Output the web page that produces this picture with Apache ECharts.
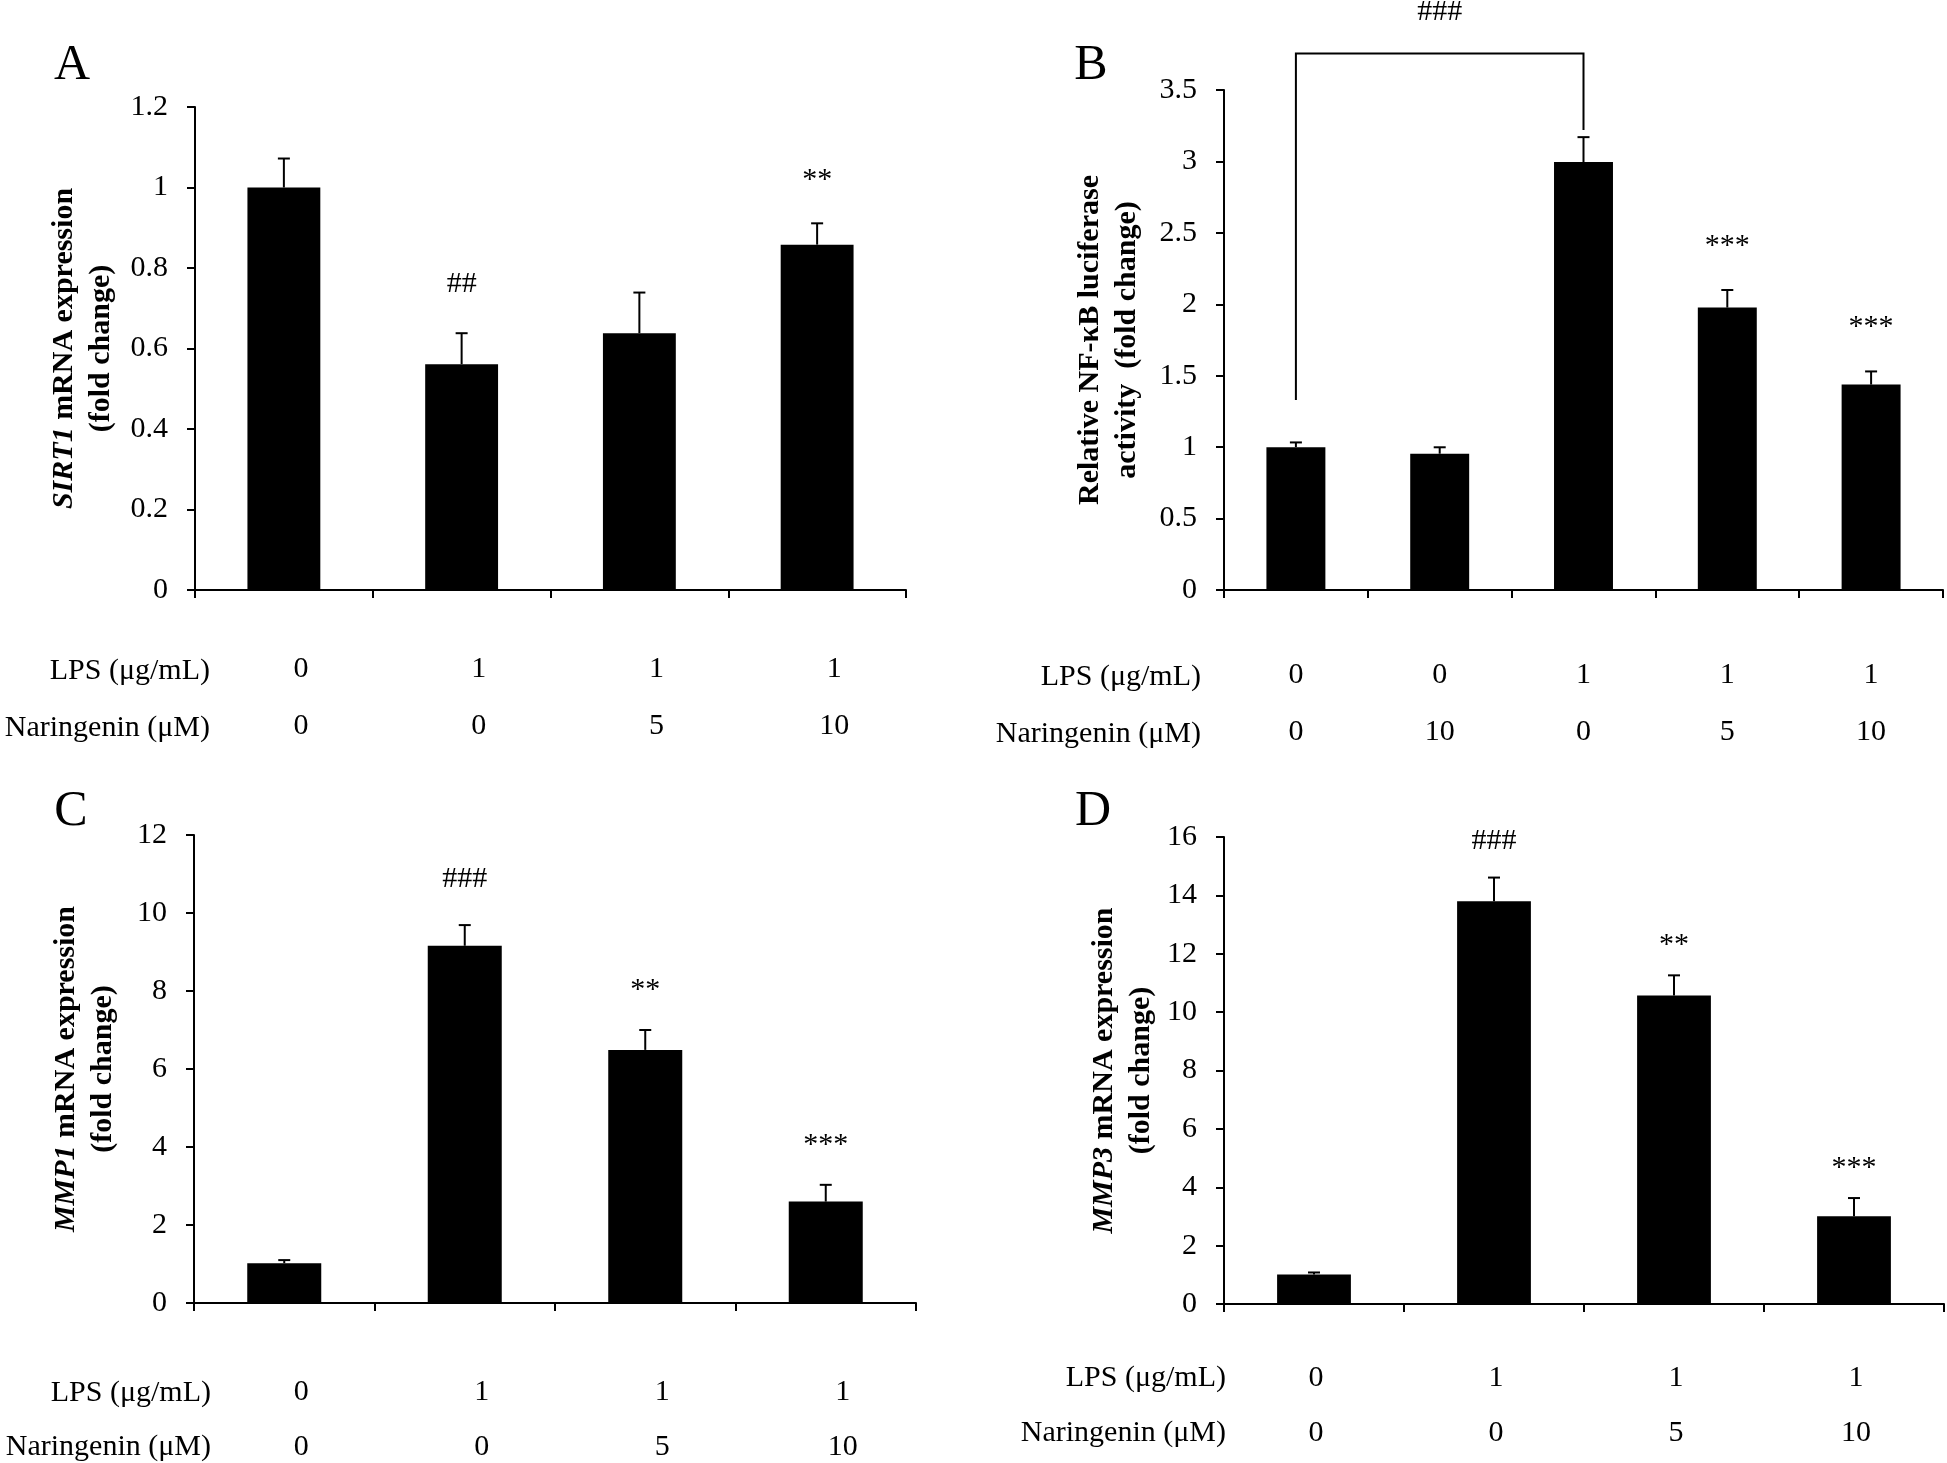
<!DOCTYPE html>
<html><head><meta charset="utf-8">
<script src="https://cdn.jsdelivr.net/npm/echarts@6/dist/echarts.min.js"></script>
<style>html,body{margin:0;padding:0;background:#fff}#c{width:1947px;height:1463px}</style>
</head><body><div id="c"></div>
<script>
// ---------- DATA ----------
// Panel A: SIRT1
const lpsA = ['0', '1', '1', '1'];
const narA = ['0', '0', '5', '10'];
const valA = [1.0, 0.561, 0.638, 0.858];
const errA = [0.072, 0.077, 0.101, 0.053];
const sigA = ['', '##', '', '**'];
const yTicksA = [0, 1.2, 0.2];

// Panel B: NF-kB luciferase
const lpsB = ['0', '0', '1', '1', '1'];
const narB = ['0', '10', '0', '5', '10'];
const valB = [1.0, 0.954, 2.996, 1.977, 1.438];
const errB = [0.033, 0.045, 0.174, 0.123, 0.092];
const sigB = ['', '', '', '***', '***'];
const bracketCatsB = [0, 2];
const bracketYB = [1.33, 3.756, 3.22];
const bracketTextB = '###';
const yTicksB = [0, 3.5, 0.5];

// Panel C: MMP1
const lpsC = ['0', '1', '1', '1'];
const narC = ['0', '0', '5', '10'];
const valC = [1.02, 9.16, 6.49, 2.6];
const errC = [0.08, 0.53, 0.51, 0.43];
const sigC = ['', '###', '**', '***'];
const yTicksC = [0, 12, 2];

// Panel D: MMP3
const lpsD = ['0', '1', '1', '1'];
const narD = ['0', '0', '5', '10'];
const valD = [1.01, 13.8, 10.57, 3.01];
const errD = [0.07, 0.81, 0.69, 0.62];
const sigD = ['', '###', '**', '***'];
const yTicksD = [0, 16, 2];

// ---------- STYLE ----------
const FF = '"Liberation Serif", "Times New Roman", serif';
const FS = 30;

const chart = echarts.init(document.getElementById('c'), null, {renderer: 'canvas'});

const grids = [
  {left: 195, top: 107, width: 711, height: 483},
  {left: 1224, top: 90, width: 719, height: 500},
  {left: 194, top: 835, width: 722, height: 468},
  {left: 1224, top: 837, width: 720, height: 467}
];

function xAxisFor(gi, lps, nar, lh, margin, shift) {
  return {
    type: 'category', gridIndex: gi,
    data: lps.map((l, i) => l + '|' + nar[i]),
    axisLine: {lineStyle: {color: '#000', width: 2}},
    axisTick: {show: true, length: 8, lineStyle: {color: '#000', width: 2}},
    splitLine: {show: false},
    axisLabel: {
      margin: margin, interval: 0,
      formatter: (v, i) => '{a|' + lps[i] + '}\n{a|' + nar[i] + '}',
      rich: {a: {fontFamily: FF, fontSize: FS, color: '#000', lineHeight: lh, padding: [0, 0, 0, shift * 2]}}
    }
  };
}

function yAxisFor(gi, ticks, name, gap) {
  return {
    type: 'value', gridIndex: gi, min: ticks[0], max: ticks[1], interval: ticks[2],
    axisLine: {show: true, lineStyle: {color: '#000', width: 2}},
    axisTick: {show: true, length: 8, lineStyle: {color: '#000', width: 2}},
    splitLine: {show: false},
    axisLabel: {color: '#000', fontFamily: FF, fontSize: FS, margin: 27},
    name: name, nameLocation: 'middle', nameRotate: 90, nameGap: gap,
    nameTextStyle: {
      color: '#000', fontFamily: FF, fontSize: 30, fontWeight: 'bold', lineHeight: 37,
      rich: {
        i: {fontFamily: FF, fontSize: 30, fontWeight: 'bold', fontStyle: 'italic', color: '#000', lineHeight: 37},
        b: {fontFamily: FF, fontSize: 30, fontWeight: 'bold', color: '#000', lineHeight: 37}
      }
    }
  };
}

function barSeries(gi, vals) {
  return {
    type: 'bar', xAxisIndex: gi, yAxisIndex: gi, data: vals, barWidth: '41%',
    itemStyle: {color: '#000'}, silent: true
  };
}

function errSeries(gi, vals, errs, sigs, offset) {
  return {
    type: 'custom', xAxisIndex: gi, yAxisIndex: gi, clip: false, silent: true, z: 5,
    data: vals.map((v, i) => [i, v, errs[i]]),
    renderItem: function (params, api) {
      const x = api.value(0), v = api.value(1), e = api.value(2);
      const p0 = api.coord([x, v]);
      const p1 = api.coord([x, v + e]);
      const children = [
        {type: 'line', shape: {x1: p0[0], y1: p0[1], x2: p1[0], y2: p1[1]}, style: {stroke: '#000', lineWidth: 2}},
        {type: 'line', shape: {x1: p1[0] - 6, y1: p1[1], x2: p1[0] + 6, y2: p1[1]}, style: {stroke: '#000', lineWidth: 2}}
      ];
      const s = sigs[params.dataIndex];
      if (s) {
        const adj = s.indexOf('*') >= 0 ? 5 : -1;
        children.push({type: 'text', style: {
          text: s, x: p1[0], y: p1[1] - offset + adj, align: 'center', verticalAlign: 'middle',
          fontFamily: FF, fontSize: FS, fill: '#000'
        }});
      }
      return {type: 'group', children: children};
    }
  };
}

const bracketSeries = {
  type: 'custom', xAxisIndex: 1, yAxisIndex: 1, clip: false, silent: true, z: 5,
  data: [[bracketCatsB[0], bracketCatsB[1]]],
  renderItem: function (params, api) {
    const a = api.coord([bracketCatsB[0], bracketYB[0]]);
    const b = api.coord([bracketCatsB[0], bracketYB[1]]);
    const c = api.coord([bracketCatsB[1], bracketYB[1]]);
    const d = api.coord([bracketCatsB[1], bracketYB[2]]);
    return {type: 'group', children: [
      {type: 'polyline', shape: {points: [a, b, c, d]}, style: {stroke: '#000', lineWidth: 2, fill: null}},
      {type: 'text', style: {text: bracketTextB, x: (b[0] + c[0]) / 2, y: b[1] - 41, align: 'center',
        verticalAlign: 'middle', fontFamily: FF, fontSize: FS, fill: '#000'}}
    ]};
  }
};

function txt(text, x, y, align, size) {
  return {type: 'text', x: x, y: y, style: {text: text, fontFamily: FF, fontSize: size || FS, fill: '#000',
    align: align || 'left', verticalAlign: 'middle'}};
}

const option = {
  animation: false,
  backgroundColor: '#fff',
  grid: grids,
  xAxis: [
    xAxisFor(0, lpsA, narA, 57, 51, 17),
    xAxisFor(1, lpsB, narB, 57, 57, 0),
    xAxisFor(2, lpsC, narC, 55, 62, 17),
    xAxisFor(3, lpsD, narD, 55, 47, 2)
  ],
  yAxis: [
    yAxisFor(0, yTicksA, '{i|SIRT1}{b| mRNA expression}\n{b|(fold change)}', 75),
    yAxisFor(1, yTicksB, '{b|Relative NF-κB luciferase}\n{b|activity  (fold change)}', 78),
    yAxisFor(2, yTicksC, '{i|MMP1}{b| mRNA expression}\n{b|(fold change)}', 72),
    yAxisFor(3, yTicksD, '{i|MMP3}{b| mRNA expression}\n{b|(fold change)}', 64)
  ],
  series: [
    barSeries(0, valA), errSeries(0, valA, errA, sigA, 48),
    barSeries(1, valB), errSeries(1, valB, errB, sigB, 49), bracketSeries,
    barSeries(2, valC), errSeries(2, valC, errC, sigC, 45),
    barSeries(3, valD), errSeries(3, valD, errD, sigD, 35)
  ],
  graphic: [
    txt('A', 72, 66, 'center', 50),
    txt('B', 1091, 66, 'center', 50),
    txt('C', 71, 812, 'center', 50),
    txt('D', 1093, 812, 'center', 50),
    txt('LPS (μg/mL)', 210, 671, 'right'),
    txt('Naringenin (μM)', 210, 728, 'right'),
    txt('LPS (μg/mL)', 1201, 677, 'right'),
    txt('Naringenin (μM)', 1201, 734, 'right'),
    txt('LPS (μg/mL)', 211, 1393, 'right'),
    txt('Naringenin (μM)', 211, 1447, 'right'),
    txt('LPS (μg/mL)', 1226, 1378, 'right'),
    txt('Naringenin (μM)', 1226, 1433, 'right')
  ]
};
chart.setOption(option);
</script>
</body></html>
